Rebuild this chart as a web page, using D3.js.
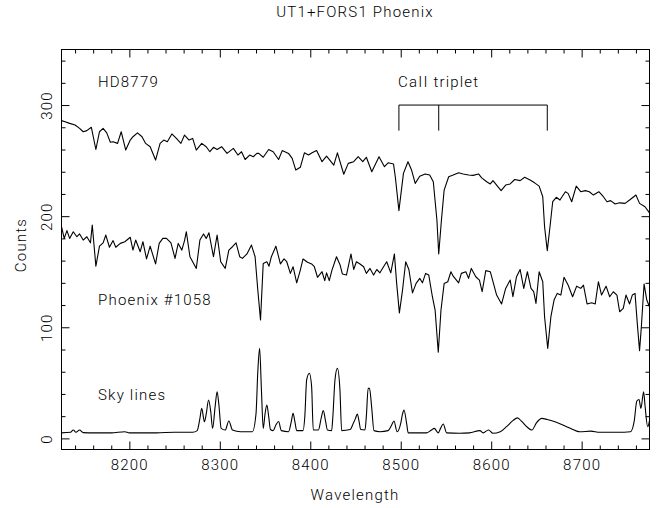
<!DOCTYPE html>
<html>
<head>
<meta charset="utf-8">
<script src="https://cdn.jsdelivr.net/npm/d3@7"></script>
<style>
    body { margin: 0; background: #fff; }
    text { font-family: Roboto, "Liberation Sans", Arial, sans-serif; font-weight: 300; font-size: 15px; letter-spacing: 1.2px; fill: #000; }
</style>
</head>
<body>
<svg id="chart" width="665" height="508"></svg>
<script>
// HD8779 (comparison star)
const hdWave = [8125, 8129, 8134, 8140, 8145, 8149, 8153, 8158, 8163, 8167, 8171, 8175, 8179, 8182, 8187, 8191, 8196, 8201, 8204, 8209,
    8214, 8218, 8223, 8229, 8234, 8238, 8242, 8247, 8252, 8257, 8261, 8266, 8270, 8274, 8280, 8285, 8289, 8293, 8297, 8302,
    8308, 8315, 8320, 8324, 8328, 8333, 8337, 8341, 8343, 8348, 8354, 8359, 8365, 8369, 8376, 8380, 8384, 8389, 8393.5, 8398,
    8402, 8407, 8413, 8418, 8426, 8430, 8437, 8442, 8448, 8453, 8458, 8462, 8468, 8476, 8482, 8486, 8492, 8494, 8498, 8503,
    8508, 8512, 8516, 8521, 8527, 8532, 8536, 8540, 8542, 8545, 8548, 8553, 8558, 8564, 8569, 8575, 8580, 8586, 8589.5, 8595,
    8599, 8602, 8606, 8611, 8616, 8621, 8626, 8632, 8637, 8643, 8648, 8653, 8657, 8659, 8662, 8665, 8668, 8672, 8676, 8682,
    8685, 8689, 8694, 8699, 8704, 8708.5, 8713, 8719, 8724, 8728, 8732, 8737, 8742, 8748, 8753, 8760, 8764, 8770, 8775];
const hdCounts = [286, 285, 283.5, 282, 279, 276, 277, 280, 260, 276, 279, 275, 266.5, 267, 265.5, 276, 259.5, 268.5, 271.5, 275,
    271.5, 265.5, 262.5, 250.5, 265.5, 268.5, 267, 274, 270, 265.5, 273, 268.5, 270, 259.5, 265.5, 262.5, 258, 262, 260, 262.5,
    256.5, 261, 255, 258, 251, 255, 253.5, 256.5, 256.5, 253, 260, 258, 251, 259, 256.5, 252, 241.5, 244, 257, 255,
    257, 259, 249, 254, 246, 257, 237.7, 247.5, 249, 253.5, 249, 253, 240, 253.5, 244.5, 248, 247, 235.5, 205, 238.5,
    249, 241.5, 229.5, 236, 238, 237, 231, 196.5, 166, 196.5, 223.5, 235.5, 237, 239, 238, 237, 236.7, 238, 234.5, 231,
    229, 232, 228, 223, 228, 229, 233, 232, 235, 232.5, 230, 227, 217.5, 190.5, 169, 190.5, 213, 217, 214.5, 222,
    220.5, 213, 227, 222, 223, 222, 219, 222, 217.5, 213, 214, 211, 212, 211.5, 214.5, 219, 211.5, 208.5, 203];

// Phoenix #1058
const phxWave = [8125, 8128, 8131, 8134, 8138, 8142, 8145, 8149, 8153, 8157, 8159, 8163, 8167, 8171, 8174, 8178, 8182, 8185, 8190, 8195,
    8201, 8204, 8207, 8212, 8215, 8219, 8223, 8229, 8233, 8237, 8241, 8246, 8250.5, 8254, 8258, 8261, 8263, 8267, 8270, 8274,
    8278, 8282, 8285, 8288, 8293, 8297, 8301, 8306, 8310, 8314, 8318, 8322, 8325, 8330, 8335, 8339, 8342, 8345, 8348, 8352,
    8354.4, 8357, 8362, 8367, 8371, 8374, 8378, 8381, 8385, 8389, 8392, 8397, 8401.5, 8404.5, 8408, 8413, 8416, 8418, 8421, 8424,
    8429, 8433, 8435.5, 8440, 8445, 8448, 8451, 8455, 8459, 8462, 8466, 8470, 8473.5, 8477, 8481, 8484.5, 8489, 8493, 8495.5, 8498.5,
    8502, 8505.5, 8509, 8513, 8517, 8521, 8524, 8527.5, 8531, 8535, 8538, 8541.5, 8544.5, 8548, 8552, 8555.5, 8558, 8564, 8567, 8572,
    8575, 8578, 8583, 8587, 8590, 8594, 8599, 8602, 8606, 8611.5, 8616, 8621, 8624, 8628, 8632, 8636, 8640, 8644, 8647, 8649.5,
    8653, 8657, 8659, 8662.5, 8666, 8669.5, 8673, 8677, 8680.5, 8685, 8690, 8694.5, 8699, 8702, 8706, 8711, 8715, 8718.5, 8722, 8727,
    8731, 8735, 8739, 8742, 8746, 8749, 8753, 8756, 8759, 8761.5, 8764, 8766, 8769, 8772, 8775];
const phxCounts = [190.5, 180, 187, 180, 186, 181.5, 184, 178.5, 181.5, 176, 192, 155, 173, 176, 183, 172, 178, 172, 175.5, 177,
    181, 169.5, 178.5, 168, 177, 161.5, 173, 157, 175.5, 180, 180, 176, 162, 175.5, 169.5, 178, 186, 163.5, 159, 153,
    178.5, 184, 180, 185, 163.5, 183, 159, 153, 169.5, 172.5, 176, 163.5, 162, 166, 174, 163.5, 133.5, 106.5, 157.5, 159,
    155, 163.5, 173, 157, 161.5, 159, 148.5, 154.5, 140, 151.5, 161.5, 158.5, 157, 154.5, 145, 150, 142, 149, 142, 151.5,
    163.5, 156, 148, 147, 166, 152, 159, 157, 154.5, 148.5, 153, 147, 152, 149, 154.5, 159, 149, 166, 139.5, 113,
    133.5, 159, 152, 131, 139.5, 144, 140, 148.5, 147, 127.5, 115.5, 77.5, 115.5, 139.5, 141, 150, 146, 140, 148.5, 150,
    144, 153, 145.5, 142.5, 132, 151, 150, 141, 129, 121, 135, 142.5, 127.5, 145.5, 152, 135, 150, 135, 132, 121.5,
    150, 141, 109.5, 81, 109.5, 124.5, 130.5, 129, 145, 138, 127.5, 137, 135, 138, 121, 122, 121, 141, 129, 137,
    127.5, 132, 129, 114, 117, 129, 121, 129, 130.5, 103.5, 79, 100.5, 139, 124.5, 118.5];

// night sky emission
const skyWave = [8125, 8135, 8138, 8141, 8145, 8149, 8160, 8180, 8195, 8200, 8230, 8250, 8270, 8275, 8278, 8280, 8283, 8285, 8287.6, 8290,
    8292, 8295, 8297, 8299, 8301.5, 8306, 8310, 8314, 8323, 8336, 8340, 8342, 8344, 8346, 8348, 8350, 8352, 8354, 8356, 8359,
    8362, 8365, 8368, 8376, 8379, 8381, 8383, 8385, 8392, 8394, 8396, 8399, 8401.5, 8403.3, 8409, 8412, 8414.4, 8417, 8419, 8423.6,
    8425, 8427.3, 8430, 8432.8, 8434.7, 8444, 8447.6, 8450, 8452, 8454, 8455.7, 8460.5, 8462, 8464, 8465.5, 8467.8, 8470.4, 8477, 8486, 8490,
    8492.5, 8496, 8500, 8502, 8503.6, 8506.5, 8508.3, 8517.6, 8528.6, 8534, 8537, 8541.5, 8544, 8547, 8550.7, 8565, 8576, 8587.5, 8591, 8597,
    8602, 8610, 8617, 8624, 8629, 8634, 8640, 8645, 8650, 8656, 8662, 8672, 8686, 8698, 8710, 8720, 8740, 8754, 8758, 8761,
    8763.4, 8765.5, 8768.5, 8770, 8773, 8775];
const skyCounts = [5, 5.5, 7.5, 5.5, 7.5, 5.2, 5, 5, 6, 5, 5, 5.5, 5.5, 7, 18, 27, 15, 22, 34.6, 24,
    9, 30, 42, 30, 9, 7.5, 15.7, 7.5, 6, 6, 22, 60, 81, 44, 9, 22, 30, 20, 8, 7,
    12, 15.2, 7, 6, 15, 22.6, 15, 7, 7, 20, 52.6, 58.6, 46.6, 7.6, 7.6, 18, 25, 15, 7.6, 7,
    20, 52.6, 63, 43.6, 7, 8, 13.6, 18, 22, 15, 8, 7.6, 20, 45, 45, 28.6, 7, 6, 7, 12,
    15.7, 6, 13.6, 22, 25.6, 13.6, 5, 5, 5, 7.6, 9, 5, 9, 13, 5, 4.6, 5, 7, 5, 7.6,
    4.6, 6, 10.6, 16, 18.5, 15, 10, 7.5, 14, 18, 17, 14.6, 9.6, 6, 6.5, 5.5, 5.5, 6, 15, 33.6,
    35, 27, 42, 30, 10.5, 16];

// Ca II triplet marker
const caLines = [8498, 8542, 8662];
const caTop = 300, caBottom = 277;

const xMajor = [8200, 8300, 8400, 8500, 8600, 8700];
const yMajor = [0, 100, 200, 300];
const xMinor = d3.range(8140, 8775, 20).filter(v => v % 100 != 0);
const yMinor = d3.range(20, 350, 20).filter(v => v % 100 != 0);

const svg = d3.select('#chart');
const plotL = 61.5, plotR = 649.5, plotT = 49.5, plotB = 449.5;

const x = d3.scaleLinear().domain([8125, 8775]).range([plotL, plotR]);
const y = d3.scaleLinear().domain([-10, 350]).range([plotB, plotT]);

// ticks on all four sides, pointing inward
function addAxis(axis, tx, ty, len, values, labels) {
    const g = svg.append('g')
        .attr('transform', `translate(${tx},${ty})`)
        .call(axis.tickValues(values).tickSize(-len).tickPadding(10).tickFormat(labels ? d3.format('d') : ''));
    g.select('.domain').remove();
    g.selectAll('line').attr('stroke', '#000').attr('stroke-width', 1);
    g.attr('font-family', null).attr('font-size', null);
    return g;
}

addAxis(d3.axisBottom(x), 0, plotB, 4, xMinor, false);
addAxis(d3.axisTop(x), 0, plotT, 4, xMinor, false);
addAxis(d3.axisLeft(y), plotL, 0, 4, yMinor, false);
addAxis(d3.axisRight(y), plotR, 0, 4, yMinor, false);
addAxis(d3.axisBottom(x), 0, plotB, 8, xMajor, true);
addAxis(d3.axisTop(x), 0, plotT, 8, xMajor, false);
addAxis(d3.axisRight(y), plotR, 0, 8, yMajor, false);
const yAxisG = addAxis(d3.axisLeft(y), plotL, 0, 8, yMajor, true);
yAxisG.selectAll('text')
    .attr('x', 0)
    .attr('dy', 0)
    .attr('text-anchor', 'middle')
    .attr('transform', 'translate(-10,0) rotate(-90)');

svg.append('rect')
    .attr('x', plotL).attr('y', plotT)
    .attr('width', plotR - plotL).attr('height', plotB - plotT)
    .attr('fill', 'none').attr('stroke', '#000').attr('stroke-width', 1);

// spectra
svg.append('clipPath').attr('id', 'plotClip')
    .append('rect').attr('x', plotL).attr('y', plotT).attr('width', plotR - plotL).attr('height', plotB - plotT);

function drawSpectrum(wave, counts, curve) {
    const line = d3.line()
        .x(d => x(d[0]))
        .y(d => y(d[1]))
        .curve(curve);
    svg.append('path')
        .datum(d3.zip(wave, counts))
        .attr('clip-path', 'url(#plotClip)')
        .attr('d', line)
        .attr('fill', 'none')
        .attr('stroke', '#000')
        .attr('stroke-width', 1.1)
        .attr('stroke-linejoin', 'round');
}

drawSpectrum(hdWave, hdCounts, d3.curveLinear);
drawSpectrum(phxWave, phxCounts, d3.curveLinear);
drawSpectrum(skyWave, skyCounts, d3.curveMonotoneX);

// Ca II bracket
svg.append('line')
    .attr('x1', x(caLines[0])).attr('x2', x(caLines[caLines.length - 1]))
    .attr('y1', y(caTop)).attr('y2', y(caTop))
    .attr('stroke', '#000');
svg.selectAll('.caTick')
    .data(caLines)
    .enter()
    .append('line')
    .classed('caTick', true)
    .attr('x1', d => x(d)).attr('x2', d => x(d))
    .attr('y1', y(caTop)).attr('y2', y(caBottom))
    .attr('stroke', '#000');

// labels
svg.append('text').attr('x', 355).attr('y', 17).attr('text-anchor', 'middle').text('UT1+FORS1  Phoenix');
svg.append('text').attr('x', 355).attr('y', 500).attr('text-anchor', 'middle').text('Wavelength');
svg.append('text').attr('transform', 'translate(26,245) rotate(-90)').attr('text-anchor', 'middle').text('Counts');
svg.append('text').attr('x', 98).attr('y', 87).text('HD8779');
svg.append('text').attr('x', 398).attr('y', 87).text('CaII triplet');
svg.append('text').attr('x', 98).attr('y', 305).text('Phoenix #1058');
svg.append('text').attr('x', 98).attr('y', 400).text('Sky lines');
</script>
</body>
</html>
